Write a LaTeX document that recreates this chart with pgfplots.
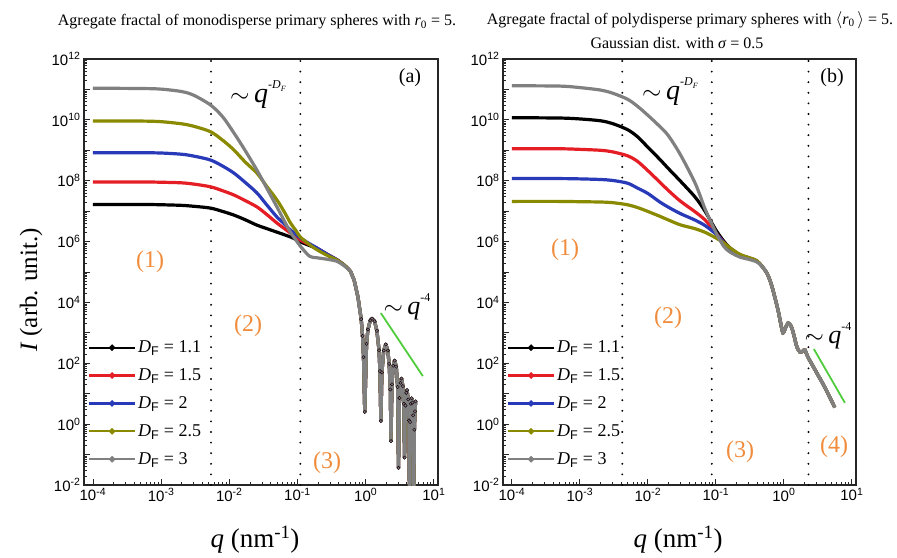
\documentclass[border=0pt]{standalone}
\usepackage{fontspec}
\setmainfont{Liberation Serif}
\setsansfont{Liberation Sans}
\usepackage{pgfplots}
\usepackage{pgfplotstable}
\pgfplotsset{compat=1.18}

\definecolor{cRed}{RGB}{228,30,36}
\definecolor{cBlue}{RGB}{40,58,184}
\definecolor{cOlive}{RGB}{138,138,0}
\definecolor{cGray}{RGB}{128,128,128}
\definecolor{cDot}{RGB}{140,112,128}
\definecolor{cOrange}{RGB}{240,140,60}
\definecolor{cGreen}{RGB}{80,205,60}

\pgfplotsset{
  legend image code/.code={\draw[mark repeat=2,mark phase=2,#1]
    plot coordinates {(0pt,0pt) (23pt,0pt) (46pt,0pt)};},
}

% Monodisperse aggregates: q, then D_F = 1.1, 1.5, 2, 2.5, 3
\pgfplotstableread{
q A B C D E
1e-4 1.660e7 9.120e7 8.318e8 9.120e9 1.096e11
5e-4 1.660e7 9.120e7 8.318e8 9.120e9 1.072e11
1e-3 1.622e7 8.913e7 8.128e8 8.710e9 1.023e11
2e-3 1.549e7 8.511e7 7.413e8 7.413e9 8.511e10
3e-3 1.445e7 7.762e7 6.457e8 6.166e9 6.457e10
5.3e-3 1.259e7 6.310e7 4.786e8 4.074e9 3.090e10
8e-3 9.772e6 4.677e7 3.020e8 2.138e9 1.259e10
1.17e-2 7.413e6 3.388e7 1.778e8 1.023e9 3.715e9
1.7e-2 5.248e6 2.239e7 8.913e7 4.169e8 1.000e9
2.54e-2 3.467e6 1.380e7 3.981e7 1.778e8 2.239e8
3.5e-2 2.692e6 7.943e6 1.660e7 6.761e7 6.026e7
4.99e-2 2.042e6 4.074e6 6.457e6 2.344e7 1.380e7
6.5e-2 1.660e6 2.630e6 3.715e6 8.913e6 4.467e6
7.9e-2 1.413e6 1.905e6 2.399e6 4.074e6 1.995e6
0.095 1.175e6 1.445e6 1.738e6 2.291e6 1.122e6
0.11 9.772e5 1.122e6 1.318e6 1.413e6 7.079e5
0.15 7.413e5 7.943e5 8.511e5 7.943e5 3.311e5
0.19 6.026e5 6.166e5 6.310e5 5.495e5 2.951e5
0.27 3.802e5 3.890e5 3.890e5 3.548e5 2.630e5
0.38 2.512e5 2.512e5 2.512e5 2.455e5 2.239e5
0.5 1.585e5 1.585e5 1.585e5 1.585e5 1.514e5
0.6 1.047e5 1.047e5 1.047e5 1.047e5 1.047e5
0.68 5.248e4 5.248e4 5.248e4 5.248e4 5.248e4
0.77 1.514e4 1.514e4 1.514e4 1.514e4 1.514e4
0.86 2818 2818 2818 2818 2818
0.9 794 794 794 794 794
0.93 158 158 158 158 158
0.97 2.51 2.51 2.51 2.51 2.51
1.03 436.5 436.5 436.5 436.5 436.5
1.08 1288 1288 1288 1288 1288
1.17 2570 2570 2570 2570 2570
1.24 2951 2951 2951 2951 2951
1.35 2399 2399 2399 2399 2399
1.46 1175 1175 1175 1175 1175
1.57 269 269 269 269 269
1.62 55 55 55 55 55
1.67 1.26 1.26 1.26 1.26 1.26
1.73 50 50 50 50 50
1.84 263 263 263 263 263
1.97 417 417 417 417 417
2.11 263 263 263 263 263
2.21 95.5 95.5 95.5 95.5 95.5
2.30 13.8 13.8 13.8 13.8 13.8
2.35 0.275 0.275 0.275 0.275 0.275
2.43 20.4 20.4 20.4 20.4 20.4
2.54 83.2 83.2 83.2 83.2 83.2
2.66 123 123 123 123 123
2.81 77.6 77.6 77.6 77.6 77.6
2.94 16.6 16.6 16.6 16.6 16.6
3.03 0.0363 0.0363 0.0363 0.0363 0.0363
3.13 7.24 7.24 7.24 7.24 7.24
3.24 22.9 22.9 22.9 22.9 22.9
3.35 31.6 31.6 31.6 31.6 31.6
3.51 17.8 17.8 17.8 17.8 17.8
3.62 4.68 4.68 4.68 4.68 4.68
3.72 0.0794 0.0794 0.0794 0.0794 0.0794
3.83 4.07 4.07 4.07 4.07 4.07
3.94 10.7 10.7 10.7 10.7 10.7
4.04 13.2 13.2 13.2 13.2 13.2
4.21 6.46 6.46 6.46 6.46 6.46
4.32 1.32 1.32 1.32 1.32 1.32
4.40 0.001 0.001 0.001 0.001 0.001
4.48 1.17 1.17 1.17 1.17 1.17
4.59 4.68 4.68 4.68 4.68 4.68
4.72 7.08 7.08 7.08 7.08 7.08
4.86 5.13 5.13 5.13 5.13 5.13
4.97 1.95 1.95 1.95 1.95 1.95
5.08 0.001 0.001 0.001 0.001 0.001
5.18 0.66 0.66 0.66 0.66 0.66
5.29 2.63 2.63 2.63 2.63 2.63
5.4 5.62 5.62 5.62 5.62 5.62
}\tabL

% Polydisperse aggregates (Gaussian, sigma = 0.5): q, then D_F = 1.1, 1.5, 2, 2.5, 3
\pgfplotstableread{
q A B C D E
1e-4 1.175e10 1.122e9 1.175e8 2.089e7 1.318e11
5e-4 1.148e10 1.122e9 1.175e8 2.089e7 1.288e11
1e-3 1.072e10 1.072e9 1.148e8 2.042e7 1.148e11
2e-3 9.333e9 1.000e9 1.096e8 1.995e7 9.550e10
3e-3 7.586e9 8.913e8 1.023e8 1.905e7 7.586e10
5e-3 4.786e9 6.607e8 8.318e7 1.622e7 4.786e10
7e-3 2.818e9 4.365e8 5.754e7 1.318e7 2.818e10
1e-2 1.259e9 2.138e8 3.802e7 9.772e6 1.413e10
1.5e-2 5.012e8 8.913e7 1.995e7 6.761e6 6.026e9
2e-2 2.512e8 4.786e7 1.349e7 5.129e6 3.020e9
3e-2 9.772e7 2.138e7 8.318e6 3.548e6 7.244e8
5e-2 2.818e7 9.333e6 5.012e6 2.630e6 7.943e7
7e-2 9.550e6 5.012e6 3.311e6 1.995e6 1.122e7
0.1 2.399e6 1.905e6 1.778e6 1.318e6 1.995e6
0.13 1.047e6 9.550e5 9.333e5 9.120e5 7.079e5
0.16 6.310e5 6.026e5 6.026e5 6.310e5 4.571e5
0.225 3.631e5 3.631e5 3.631e5 3.802e5 3.090e5
0.3 2.951e5 2.951e5 2.951e5 3.020e5 2.630e5
0.4 2.291e5 2.291e5 2.291e5 2.344e5 2.138e5
0.48 1.514e5 1.514e5 1.514e5 1.514e5 1.514e5
0.56 9.333e4 9.333e4 9.333e4 9.333e4 9.333e4
0.63 5.012e4 5.012e4 5.012e4 5.012e4 5.012e4
0.69 2.570e4 2.570e4 2.570e4 2.570e4 2.570e4
0.82 5623 5623 5623 5623 5623
0.9 1995 1995 1995 1995 1995
0.97 1000 1000 1000 1000 1000
1.05 1413 1413 1413 1413 1413
1.15 2089 2089 2089 2089 2089
1.23 1862 1862 1862 1862 1862
1.31 1445 1445 1445 1445 1445
1.45 631 631 631 631 631
1.55 347 347 347 347 347
1.72 234 234 234 234 234
1.9 251 251 251 251 251
2.04 275 275 275 275 275
2.25 162 162 162 162 162
3.0 51.3 51.3 51.3 51.3 51.3
4.0 16.2 16.2 16.2 16.2 16.2
5.6 3.55 3.55 3.55 3.55 3.55
}\tabR

\begin{document}
\begin{tikzpicture}
\useasboundingbox (0pt,0pt) rectangle (897pt,557pt);

% (a) monodisperse primary spheres
\begin{axis}[
    at={(84pt,72pt)}, anchor=south west,
    xmode=log, ymode=log, scale only axis,
    width=354pt, height=426pt,
    xmin=7.4e-5, xmax=11.5, ymin=1e-2, ymax=1e12,
    axis line style={line width=1.1pt, black!85},
    tick align=inside, tick pos=left,
    major tick length=6pt, minor tick length=3pt,
    major tick style={black!85, line width=0.8pt},
    minor tick style={black!85, line width=0.6pt},
    xtick={1e-4,1e-3,1e-2,1e-1,1,10},
    minor xtick={2e-4,3e-4,4e-4,5e-4,6e-4,7e-4,8e-4,9e-4,2e-3,3e-3,4e-3,5e-3,6e-3,7e-3,8e-3,9e-3,2e-2,3e-2,4e-2,5e-2,6e-2,7e-2,8e-2,9e-2,0.2,0.3,0.4,0.5,0.6,0.7,0.8,0.9,2,3,4,5,6,7,8,9},
    xticklabels={10\textsuperscript{-4},10\textsuperscript{-3},10\textsuperscript{-2},10\textsuperscript{-1},10\textsuperscript{0},10\textsuperscript{1}},
    ytick={1e-2,1e-1,1,10,100,1e3,1e4,1e5,1e6,1e7,1e8,1e9,1e10,1e11,1e12},
    minor ytick={2e-2,3e-2,4e-2,5e-2,6e-2,7e-2,8e-2,9e-2,0.2,0.3,0.4,0.5,0.6,0.7,0.8,0.9,2,3,4,5,6,7,8,9,20,30,40,50,60,70,80,90,200,300,400,500,600,700,800,900,2e3,3e3,4e3,5e3,6e3,7e3,8e3,9e3,2e4,3e4,4e4,5e4,6e4,7e4,8e4,9e4,2e5,3e5,4e5,5e5,6e5,7e5,8e5,9e5,2e6,3e6,4e6,5e6,6e6,7e6,8e6,9e6,2e7,3e7,4e7,5e7,6e7,7e7,8e7,9e7,2e8,3e8,4e8,5e8,6e8,7e8,8e8,9e8,2e9,3e9,4e9,5e9,6e9,7e9,8e9,9e9,2e10,3e10,4e10,5e10,6e10,7e10,8e10,9e10,2e11,3e11,4e11,5e11,6e11,7e11,8e11,9e11},
    yticklabels={10\textsuperscript{-2},,10\textsuperscript{0},,10\textsuperscript{2},,10\textsuperscript{4},,10\textsuperscript{6},,10\textsuperscript{8},,10\textsuperscript{10},,10\textsuperscript{12}},
    tick label style={font=\sffamily\fontsize{15}{15}\selectfont},
    legend style={draw=none, fill=none, font=\fontsize{18}{18}\selectfont,
      at={(0.005,0.348)}, anchor=north west, row sep=10.5pt, inner sep=2pt},
    legend cell align=left,
  ]
\addlegendimage{black, line width=2.2pt, mark=*, mark size=1.9pt}
\addlegendentry{\textit{D}\textsubscript{\sffamily F} = 1.1}
\addlegendimage{cRed, line width=2.2pt, mark=*, mark size=1.9pt}
\addlegendentry{\textit{D}\textsubscript{\sffamily F} = 1.5}
\addlegendimage{cBlue, line width=2.2pt, mark=*, mark size=1.9pt}
\addlegendentry{\textit{D}\textsubscript{\sffamily F} = 2}
\addlegendimage{cOlive, line width=2.2pt, mark=*, mark size=1.9pt}
\addlegendentry{\textit{D}\textsubscript{\sffamily F} = 2.5}
\addlegendimage{cGray, line width=2.2pt, mark=*, mark size=1.9pt}
\addlegendentry{\textit{D}\textsubscript{\sffamily F} = 3}
\addplot[black, line width=2.1pt, dash pattern=on 0pt off 10.6pt, line cap=round, forget plot] coordinates {(5.4e-3,1e-2) (5.4e-3,1e12)};
\addplot[black, line width=2.1pt, dash pattern=on 0pt off 10.6pt, line cap=round, forget plot] coordinates {(0.11,1e-2) (0.11,1e12)};
% smooth low-q part (rows 0-21) and sharp form-factor part (rows 21-)
\addplot[black, line width=3.2pt, smooth, tension=0.5, skip coords between index={22}{200}, forget plot] table[x=q,y=A] {\tabL};
\addplot[black, line width=3.2pt, line join=round, skip coords between index={0}{21}, forget plot] table[x=q,y=A] {\tabL};
\addplot[cRed, line width=3.2pt, smooth, tension=0.5, skip coords between index={22}{200}, forget plot] table[x=q,y=B] {\tabL};
\addplot[cRed, line width=3.2pt, line join=round, skip coords between index={0}{21}, forget plot] table[x=q,y=B] {\tabL};
\addplot[cBlue, line width=3.2pt, smooth, tension=0.5, skip coords between index={22}{200}, forget plot] table[x=q,y=C] {\tabL};
\addplot[cBlue, line width=3.2pt, line join=round, skip coords between index={0}{21}, forget plot] table[x=q,y=C] {\tabL};
\addplot[cOlive, line width=3.2pt, smooth, tension=0.5, skip coords between index={22}{200}, forget plot] table[x=q,y=D] {\tabL};
\addplot[cOlive, line width=3.2pt, line join=round, skip coords between index={0}{21}, forget plot] table[x=q,y=D] {\tabL};
\addplot[cGray, line width=3.2pt, smooth, tension=0.5, skip coords between index={22}{200}, forget plot] table[x=q,y=E] {\tabL};
\addplot[cGray, line width=3.2pt, line join=round, skip coords between index={0}{21}, forget plot] table[x=q,y=E] {\tabL};
\addplot[only marks, mark=*, mark size=1.7pt, mark options={fill=cDot, draw=none}, skip coords between index={0}{24}, forget plot] table[x=q,y=E] {\tabL};
\addplot[cGreen, line width=1.8pt, forget plot] coordinates {(1.67,4.47e3) (6.9,38)};
\end{axis}

% (b) polydisperse primary spheres
\begin{axis}[
    at={(503pt,72pt)}, anchor=south west,
    xmode=log, ymode=log, scale only axis,
    width=353pt, height=426pt,
    xmin=7.4e-5, xmax=11.5, ymin=1e-2, ymax=1e12,
    axis line style={line width=1.1pt, black!85},
    tick align=inside, tick pos=left,
    major tick length=6pt, minor tick length=3pt,
    major tick style={black!85, line width=0.8pt},
    minor tick style={black!85, line width=0.6pt},
    xtick={1e-4,1e-3,1e-2,1e-1,1,10},
    minor xtick={2e-4,3e-4,4e-4,5e-4,6e-4,7e-4,8e-4,9e-4,2e-3,3e-3,4e-3,5e-3,6e-3,7e-3,8e-3,9e-3,2e-2,3e-2,4e-2,5e-2,6e-2,7e-2,8e-2,9e-2,0.2,0.3,0.4,0.5,0.6,0.7,0.8,0.9,2,3,4,5,6,7,8,9},
    xticklabels={10\textsuperscript{-4},10\textsuperscript{-3},10\textsuperscript{-2},10\textsuperscript{-1},10\textsuperscript{0},10\textsuperscript{1}},
    ytick={1e-2,1e-1,1,10,100,1e3,1e4,1e5,1e6,1e7,1e8,1e9,1e10,1e11,1e12},
    minor ytick={2e-2,3e-2,4e-2,5e-2,6e-2,7e-2,8e-2,9e-2,0.2,0.3,0.4,0.5,0.6,0.7,0.8,0.9,2,3,4,5,6,7,8,9,20,30,40,50,60,70,80,90,200,300,400,500,600,700,800,900,2e3,3e3,4e3,5e3,6e3,7e3,8e3,9e3,2e4,3e4,4e4,5e4,6e4,7e4,8e4,9e4,2e5,3e5,4e5,5e5,6e5,7e5,8e5,9e5,2e6,3e6,4e6,5e6,6e6,7e6,8e6,9e6,2e7,3e7,4e7,5e7,6e7,7e7,8e7,9e7,2e8,3e8,4e8,5e8,6e8,7e8,8e8,9e8,2e9,3e9,4e9,5e9,6e9,7e9,8e9,9e9,2e10,3e10,4e10,5e10,6e10,7e10,8e10,9e10,2e11,3e11,4e11,5e11,6e11,7e11,8e11,9e11},
    yticklabels={10\textsuperscript{-2},,10\textsuperscript{0},,10\textsuperscript{2},,10\textsuperscript{4},,10\textsuperscript{6},,10\textsuperscript{8},,10\textsuperscript{10},,10\textsuperscript{12}},
    tick label style={font=\sffamily\fontsize{15}{15}\selectfont},
    legend style={draw=none, fill=none, font=\fontsize{18}{18}\selectfont,
      at={(0.005,0.348)}, anchor=north west, row sep=10.5pt, inner sep=2pt},
    legend cell align=left,
  ]
\addlegendimage{black, line width=2.2pt, mark=*, mark size=1.9pt}
\addlegendentry{\textit{D}\textsubscript{\sffamily F} = 1.1}
\addlegendimage{cRed, line width=2.2pt, mark=*, mark size=1.9pt}
\addlegendentry{\textit{D}\textsubscript{\sffamily F} = 1.5}
\addlegendimage{cBlue, line width=2.2pt, mark=*, mark size=1.9pt}
\addlegendentry{\textit{D}\textsubscript{\sffamily F} = 2}
\addlegendimage{cOlive, line width=2.2pt, mark=*, mark size=1.9pt}
\addlegendentry{\textit{D}\textsubscript{\sffamily F} = 2.5}
\addlegendimage{cGray, line width=2.2pt, mark=*, mark size=1.9pt}
\addlegendentry{\textit{D}\textsubscript{\sffamily F} = 3}
\addplot[black, line width=2.1pt, dash pattern=on 0pt off 10.6pt, line cap=round, forget plot] coordinates {(4.2e-3,1e-2) (4.2e-3,1e12)};
\addplot[black, line width=2.1pt, dash pattern=on 0pt off 10.6pt, line cap=round, forget plot] coordinates {(0.087,1e-2) (0.087,1e12)};
\addplot[black, line width=2.1pt, dash pattern=on 0pt off 10.6pt, line cap=round, forget plot] coordinates {(2.3,1e-2) (2.3,1e12)};
\addplot[black, line width=3.2pt, smooth, tension=0.5, forget plot] table[x=q,y=A] {\tabR};
\addplot[cRed, line width=3.2pt, smooth, tension=0.5, forget plot] table[x=q,y=B] {\tabR};
\addplot[cBlue, line width=3.2pt, smooth, tension=0.5, forget plot] table[x=q,y=C] {\tabR};
\addplot[cOlive, line width=3.2pt, smooth, tension=0.5, forget plot] table[x=q,y=D] {\tabR};
\addplot[cGray, line width=3.2pt, smooth, tension=0.5, forget plot] table[x=q,y=E] {\tabR};
\addplot[cGreen, line width=1.8pt, forget plot] coordinates {(2.76,295) (7.9,5.0)};
\end{axis}

% titles
\node[font=\fontsize{16}{19}\selectfont] at (257pt,535pt)
  {Agregate fractal of monodisperse primary spheres with \textit{r}\textsubscript{0} = 5.};
\node[font=\fontsize{16}{19}\selectfont] at (690pt,537pt)
  {Agregate fractal of polydisperse primary spheres with $\langle$\textit{r}\textsubscript{0}\,$\rangle$ = 5.};
\node[font=\fontsize{16}{19}\selectfont] at (677pt,514pt)
  {Gaussian dist. with \textit{σ} = 0.5};

% axis labels
\node[font=\fontsize{27}{27}\selectfont] at (255pt,17pt) {\textit{q} (nm\textsuperscript{-1})};
\node[font=\fontsize{27}{27}\selectfont] at (678pt,17pt) {\textit{q} (nm\textsuperscript{-1})};
\node[font=\fontsize{25}{25}\selectfont, rotate=90] at (31pt,267pt) {\textit{I} (arb. unit.)};

% panel annotations
\node[font=\fontsize{20}{20}\selectfont] at (410pt,479pt) {(a)};
\node[font=\fontsize{20}{20}\selectfont] at (832pt,479pt) {(b)};
\node[font=\fontsize{28}{28}\selectfont] at (258pt,462pt)
  {$\sim$\,\textit{q}\raisebox{0.5em}{\fontsize{12}{12}\selectfont\textit{-D}\raisebox{-0.25em}{\fontsize{8}{8}\selectfont\textit{F}}}};
\node[font=\fontsize{28}{28}\selectfont] at (670pt,465pt)
  {$\sim$\,\textit{q}\raisebox{0.5em}{\fontsize{12}{12}\selectfont\textit{-D}\raisebox{-0.25em}{\fontsize{8}{8}\selectfont\textit{F}}}};
\node[font=\fontsize{26}{26}\selectfont] at (407pt,250pt)
  {$\sim$\,\textit{q}\raisebox{0.5em}{\fontsize{12}{12}\selectfont -4}};
\node[font=\fontsize{26}{26}\selectfont] at (828pt,221pt)
  {$\sim$\,\textit{q}\raisebox{0.5em}{\fontsize{12}{12}\selectfont -4}};

% regime labels
\begin{scope}[every node/.style={font=\fontsize{24}{24}\selectfont, text=cOrange}]
\node at (150pt,295pt) {(1)};
\node at (248pt,231pt) {(2)};
\node at (327pt,94pt) {(3)};
\node at (565pt,307pt) {(1)};
\node at (668pt,239pt) {(2)};
\node at (740pt,105pt) {(3)};
\node at (834pt,110pt) {(4)};
\end{scope}
\end{tikzpicture}
\end{document}
